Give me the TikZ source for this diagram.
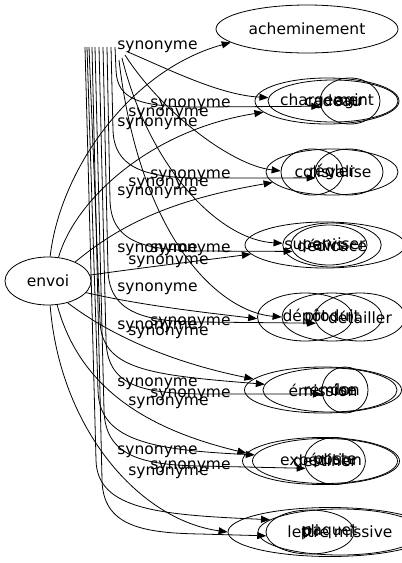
\documentclass[tikz,border=0pt]{standalone}
\usepackage{fontspec}
\setmainfont{DejaVu Sans}
\usetikzlibrary{shapes.geometric,arrows.meta}

\tikzset{
  word/.style={ellipse, draw, inner sep=0pt, font=\fontsize{15.5}{18}\selectfont},
  syn/.style={anchor=west, inner sep=0pt, font=\fontsize{15.5}{18}\selectfont},
  link/.style={-{Triangle[length=9pt,width=7pt]}}
}

\begin{document}
\begin{tikzpicture}[x=1pt, y=-1pt, line width=0.8pt]
  \useasboundingbox (0,0) rectangle (402,563);
  \clip (0,0) rectangle (402,563);

  % the word and its synonyms
  \node[word, minimum width=86pt, minimum height=48pt] (envoi) at (48,281) {envoi};
  \node[word, minimum width=182pt, minimum height=48pt] (ach) at (307,29) {acheminement};

  \node[word, minimum width=144pt, minimum height=46pt] (r2a) at (327,101) {chargement};
  \node[word, minimum width=130pt, minimum height=42pt] (r2b) at (333,101) {cadeau};
  \node[word, minimum width=60pt, minimum height=46pt] (r2c) at (350,101) {agir};

  \node[word, minimum width=132pt, minimum height=46pt] (r3a) at (332,172) {régler};
  \node[word, minimum width=62pt, minimum height=46pt] (r3b) at (312,172) {colis};
  \node[word, minimum width=68pt, minimum height=46pt] (r3c) at (349,172) {valise};

  \node[word, minimum width=160pt, minimum height=46pt] (r4a) at (325,245) {superviser};
  \node[word, minimum width=90pt, minimum height=44pt] (r4b) at (332,245) {dédicace};
  \node[word, minimum width=76pt, minimum height=40pt] (r4c) at (329,245) {avis};

  \node[word, minimum width=95pt, minimum height=48pt] (r5a) at (305,317) {dépôt};
  \node[word, minimum width=100pt, minimum height=48pt] (r5b) at (332,317) {produit};
  \node[word, minimum width=90pt, minimum height=48pt] (r5c) at (360,317) {détailler};

  \node[word, minimum width=157pt, minimum height=46pt] (r6a) at (323,390) {émission};
  \node[word, minimum width=134pt, minimum height=44pt] (r6b) at (330,390) {remise};
  \node[word, minimum width=46pt, minimum height=46pt] (r6c) at (345,390) {don};

  \node[word, minimum width=157pt, minimum height=47pt] (r7a) at (321,461) {expédition};
  \node[word, minimum width=145pt, minimum height=45pt] (r7b) at (325,461) {destiner};
  \node[word, minimum width=50pt, minimum height=47pt] (r7c) at (335,461) {poste};

  \node[word, minimum width=204pt, minimum height=49pt] (r8a) at (330,532) {paquet};
  \node[word, minimum width=164pt, minimum height=46pt] (r8b) at (340,532) {lettre missive};
  \node[word, minimum width=88pt, minimum height=44pt] (r8c) at (310,532) {pli};

  % free ends at the top of the bundle
  \coordinate (u2) at (128,52);
  \coordinate (u3) at (125,55);
  \coordinate (u4) at (122,58);
  \coordinate (u5) at (119,60);
  \coordinate (m2) at (115,47);
  \coordinate (m3) at (111,47);
  \coordinate (m4) at (107,47);
  \coordinate (m5) at (103,47);
  \coordinate (m6) at (99,47);
  \coordinate (m7) at (95,47);
  \coordinate (m8) at (92,47);
  \coordinate (b6) at (89,47);
  \coordinate (b7) at (87,47);
  \coordinate (b8) at (85,47);

  % straight from envoi
  \draw[link] (envoi.85) .. controls (60,170) and (130,70) .. (ach.190);
  \draw[link] (envoi.66) .. controls (75,200) and (150,130) .. (r2a.190);
  \draw[link] (envoi.35) .. controls (120,225) and (170,200) .. (r3a.190);
  \draw[link] (envoi.8) .. controls (140,268) and (190,262) .. (r4a.187);
  \draw[link] (envoi.-17) .. controls (140,305) and (200,312) .. (r5a.182);
  \draw[link] (envoi.-48) .. controls (110,335) and (170,362) .. (r6a.171);
  \draw[link] (envoi.-69) .. controls (80,390) and (150,430) .. (r7a.174);
  \draw[link] (envoi.-85) .. controls (60,430) and (140,520) .. (r8a.180);

  % from the top cluster
  \draw[link] (u2) .. controls (170,70) and (220,95) .. (r2b.177);
  \draw[link] (u3) .. controls (160,110) and (230,165) .. (r3b.178);
  \draw[link] (u4) .. controls (150,170) and (220,240) .. (r4b.178);
  \draw[link] (u5) .. controls (140,240) and (220,312) .. (r5b.180);

  % the long bundle
  \draw[link] (m2) -- (116,70) .. controls (117,100) and (140,107) .. (200,107) -- (r2c.190);
  \draw[link] (m3) -- (113,130) .. controls (114,165) and (140,178) .. (200,178) -- (r3c.190);
  \draw[link] (m4) -- (110,200) .. controls (111,240) and (140,250) .. (200,251) -- (r4c.190);
  \draw[link] (m5) -- (108,270) .. controls (109,310) and (140,322) .. (200,322) -- (r5c.188);
  \draw[link] (m6) -- (106,340) .. controls (107,385) and (140,393) .. (200,394) -- (r6c.190);
  \draw[link] (m7) -- (104,410) .. controls (105,455) and (140,465) .. (200,466) -- (r7c.194);
  \draw[link] (m8) -- (102,480) .. controls (103,525) and (140,533) .. (200,534) -- (r8c.185);
  \draw[link] (b6) -- (100,320) .. controls (101,370) and (150,375) .. (r6b.175);
  \draw[link] (b7) -- (98,390) .. controls (99,440) and (150,450) .. (r7b.175);
  \draw[link] (b8) -- (96,460) .. controls (97,510) and (160,515) .. (r8b.170);

  % edge labels
  \node[syn] (s1) at (117,47) {synonyme};
  \node[syn] (s2) at (150,105) {synonyme};
  \node[syn] (s3) at (128,114) {synonyme};
  \node[syn] (s4) at (117,124) {synonyme};
  \node[syn] (s5) at (150,176) {synonyme};
  \node[syn] (s6) at (128,184) {synonyme};
  \node[syn] (s7) at (117,193) {synonyme};
  \node[syn] (s8) at (117,250) {synonyme};
  \node[syn] (s9) at (150,250) {synonyme};
  \node[syn] (s10) at (128,262) {synonyme};
  \node[syn] (s11) at (117,289) {synonyme};
  \node[syn] (s12) at (150,323) {synonyme};
  \node[syn] (s13) at (117,327) {synonyme};
  \node[syn] (s14) at (128,333) {synonyme};
  \node[syn] (s15) at (117,384) {synonyme};
  \node[syn] (s16) at (150,395) {synonyme};
  \node[syn] (s17) at (128,403) {synonyme};
  \node[syn] (s18) at (117,452) {synonyme};
  \node[syn] (s19) at (150,467) {synonyme};
  \node[syn] (s20) at (128,473) {synonyme};
\end{tikzpicture}
\end{document}
